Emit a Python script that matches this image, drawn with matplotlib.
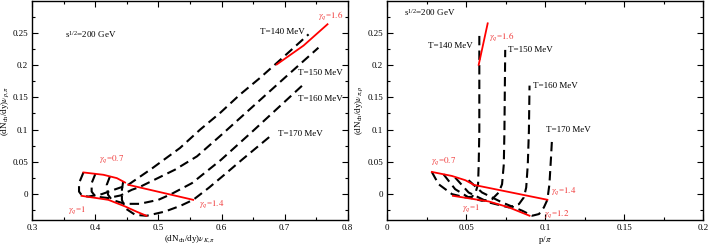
import matplotlib
matplotlib.use("Agg")
import matplotlib.pyplot as plt
from matplotlib.ticker import MultipleLocator, FuncFormatter

plt.rcParams['font.family'] = ['Liberation Serif', 'DejaVu Serif']
plt.rcParams['mathtext.fontset'] = 'stix'

temps = ["T=140 MeV", "T=150 MeV", "T=160 MeV", "T=170 MeV"]

# ---------------- left panel data: x = (dNch/dy) nu_{K,pi}, y = (dNch/dy) nu_{p,pi}
left_T_x = [
    [0.381, 0.374, 0.374, 0.379, 0.389, 0.410, 0.430, 0.452, 0.490, 0.534, 0.566, 0.598, 0.629, 0.661, 0.6875, 0.738],
    [0.400, 0.394, 0.394, 0.400, 0.420, 0.440, 0.4576, 0.470, 0.526, 0.561, 0.600, 0.650, 0.700, 0.7536],
    [0.423, 0.418, 0.420, 0.426, 0.447, 0.470, 0.4998, 0.520, 0.553, 0.599, 0.650, 0.7298],
    [0.444, 0.442, 0.442, 0.447, 0.463, 0.481, 0.510, 0.535, 0.555, 0.580, 0.6056, 0.632, 0.677],
]
left_T_y = [
    [0.0336, 0.017, 0.004, -0.0026, -0.0037, 0.000, 0.007, 0.0145, 0.040, 0.0714, 0.0999, 0.126, 0.154, 0.180, 0.203, 0.2474],
    [0.0316, 0.017, 0.004, -0.0037, -0.006, -0.002, 0.0067, 0.011, 0.0378, 0.0585, 0.092, 0.136, 0.180, 0.2267],
    [0.0274, 0.0145, -0.001, -0.0088, -0.015, -0.015, -0.0088, 0.000, 0.017, 0.053, 0.098, 0.1698],
    [0.0197, 0.0067, -0.0088, -0.0217, -0.032, -0.0335, -0.027, -0.018, -0.0088, 0.010, 0.031, 0.053, 0.0895],
]
left_g07_x = [0.381, 0.4126, 0.434, 0.447]
left_g07_y = [0.0336, 0.030, 0.0248, 0.018]
left_g14_x = [0.452, 0.555]
left_g14_y = [0.0145, -0.0088]
left_g1_x = [0.378, 0.4205, 0.447, 0.465, 0.481]
left_g1_y = [-0.0026, -0.0088, -0.019, -0.027, -0.0335]
left_g16_x = [0.6875, 0.730, 0.768]
left_g16_y = [0.2008, 0.230, 0.263]

# ---------------- right panel data: x = p/pi, y = (dNch/dy) nu_{pi,p}
right_T_x = [
    [0.0282, 0.0325, 0.0410, 0.0494, 0.0537, 0.0562, 0.0575, 0.0579, 0.0583, 0.0583, 0.0583, 0.0583],
    [0.0356, 0.0430, 0.0515, 0.0600, 0.0664, 0.0706, 0.0727, 0.0738, 0.0742, 0.0744, 0.0747],
    [0.0430, 0.0515, 0.0643, 0.0770, 0.0834, 0.0865, 0.0880, 0.0890, 0.0897, 0.0901],
    [0.0515, 0.0600, 0.0727, 0.0855, 0.0918, 0.0961, 0.0992, 0.1014, 0.1027, 0.1037, 0.1044],
]
right_T_y = [
    [0.0344, 0.0154, 0.000, -0.005, -0.004, 0.005, 0.0154, 0.046, 0.0975, 0.149, 0.200, 0.246],
    [0.0308, 0.0077, -0.005, -0.0103, -0.0077, 0.0026, 0.0154, 0.046, 0.0975, 0.149, 0.2233],
    [0.0257, 0.0026, -0.0128, -0.0205, -0.0154, -0.005, 0.0103, 0.046, 0.0975, 0.168],
    [0.0216, 0.0026, -0.0128, -0.0257, -0.0334, -0.0308, -0.0205, -0.0087, 0.0154, 0.0565, 0.0883],
]
right_g07_x = [0.0282, 0.0409, 0.0494, 0.0541]
right_g07_y = [0.0344, 0.0282, 0.0216, 0.0154]
right_g14_x = [0.0547, 0.1014]
right_g14_y = [0.0144, -0.0087]
right_g1_x = [0.0416, 0.0643, 0.0770, 0.0901]
right_g1_y = [-0.0026, -0.0113, -0.0205, -0.0334]
right_g16_x = [0.0579, 0.0636]
right_g16_y = [0.2002, 0.2644]

RED = '#ff0000'
RTXT = '#f03c3c'
FS = 6.5

fig = plt.figure(figsize=(7.08, 2.44), dpi=100)
axL = fig.add_axes([0.0457, 0.0984, 0.4454, 0.8975])
axR = fig.add_axes([0.5470, 0.0984, 0.4460, 0.8975])

fmt = FuncFormatter(lambda v, p: '%g' % round(v, 4))

def style(ax, xlim, xmaj, xmin):
    ax.set_xlim(*xlim)
    ax.set_ylim(-0.04, 0.299)
    ax.xaxis.set_major_locator(MultipleLocator(xmaj))
    ax.xaxis.set_minor_locator(MultipleLocator(xmin))
    ax.yaxis.set_major_locator(MultipleLocator(0.05))
    ax.yaxis.set_minor_locator(MultipleLocator(0.025))
    ax.xaxis.set_major_formatter(fmt)
    ax.yaxis.set_major_formatter(fmt)
    ax.tick_params(which='both', direction='in', top=True, right=True, labelsize=FS, pad=3)
    ax.tick_params(which='major', length=4, width=0.8)
    ax.tick_params(which='minor', length=2, width=0.8)
    for s in ax.spines.values():
        s.set_linewidth(1.0)

def gq(v):
    return r'$\gamma_q$=$\mathit{' + v + '}$'

dash = (0, (4.5, 2.5))

# left
for xs, ys in zip(left_T_x, left_T_y):
    axL.plot(xs, ys, color='black', lw=1.5, linestyle=dash)
for xs, ys in [(left_g07_x, left_g07_y), (left_g14_x, left_g14_y),
               (left_g1_x, left_g1_y), (left_g16_x, left_g16_y)]:
    axL.plot(xs, ys, color=RED, lw=1.3)
style(axL, (0.3, 0.8), 0.1, 0.05)
axL.text(0.352, 0.247, r'$\mathregular{s^{1/2}}$=200 GeV', fontsize=FS, va='center')
for t, (x, y) in zip(temps, [(0.661, 0.251), (0.721, 0.187), (0.721, 0.148), (0.690, 0.093)]):
    axL.text(x, y, t, fontsize=FS, va='center')
axL.text(0.753, 0.277, gq('1.6'), color=RTXT, fontsize=FS, va='center')
axL.text(0.405, 0.054, gq('0.7'), color=RTXT, fontsize=FS, va='center')
axL.text(0.565, -0.016, gq('1.4'), color=RTXT, fontsize=FS, va='center')
axL.text(0.357, -0.024, gq('1'), color=RTXT, fontsize=FS, va='center')
axL.set_xlabel(r'(dN$_{\mathregular{ch}}$/dy)$\nu_{K,\pi}$', fontsize=FS, labelpad=1)
axL.set_ylabel(r'(dN$_{\mathregular{ch}}$/dy)$\nu_{p,\pi}$', fontsize=FS, labelpad=1)

# right
for xs, ys in zip(right_T_x, right_T_y):
    axR.plot(xs, ys, color='black', lw=1.5, linestyle=dash)
for xs, ys in [(right_g07_x, right_g07_y), (right_g14_x, right_g14_y),
               (right_g1_x, right_g1_y), (right_g16_x, right_g16_y)]:
    axR.plot(xs, ys, color=RED, lw=1.3)
style(axR, (0, 0.2), 0.05, 0.025)
axR.text(0.0106, 0.281, r'$\mathregular{s^{1/2}}$=200 GeV', fontsize=FS, va='center')
for t, (x, y) in zip(temps, [(0.026, 0.2295), (0.0766, 0.2233), (0.0925, 0.168), (0.1007, 0.100)]):
    axR.text(x, y, t, fontsize=FS, va='center')
axR.text(0.0647, 0.244, gq('1.6'), color=RTXT, fontsize=FS, va='center')
axR.text(0.0274, 0.0513, gq('0.7'), color=RTXT, fontsize=FS, va='center')
axR.text(0.1035, 0.004, gq('1.4'), color=RTXT, fontsize=FS, va='center')
axR.text(0.0473, -0.0215, gq('1'), color=RTXT, fontsize=FS, va='center')
axR.text(0.0993, -0.0315, gq('1.2'), color=RTXT, fontsize=FS, va='center')
axR.set_xlabel(r'p/$\pi$', fontsize=FS, labelpad=1)
axR.set_ylabel(r'(dN$_{\mathregular{ch}}$/dy)$\nu_{\pi,p}$', fontsize=FS, labelpad=2)

fig.savefig('out.png', dpi=100)
